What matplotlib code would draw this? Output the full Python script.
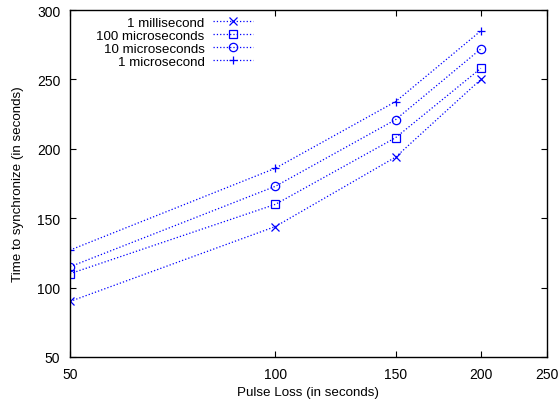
import numpy as np
import matplotlib.pyplot as plt
from matplotlib.ticker import FixedLocator, NullLocator, FixedFormatter

pulse_loss = [50, 100, 150, 200]
t_1ms = [90, 144, 194, 250]
t_100us = [110, 160, 208, 258]
t_10us = [115, 173, 221, 272]
t_1us = [127, 186, 234, 285]

series = [
    ('1 millisecond', t_1ms, 'x'),
    ('100 microseconds', t_100us, 's'),
    ('10 microseconds', t_10us, 'o'),
    ('1 microsecond', t_1us, '+'),
]

plt.rcParams['font.family'] = ['Liberation Sans', 'DejaVu Sans']

fig = plt.figure(figsize=(5.59, 4.02), dpi=100)
ax = fig.add_axes([0.1252, 0.1095, 0.8533, 0.8631])

for label, vals, m in series:
    ax.plot(pulse_loss, vals, color='#0000ff', linestyle=':', linewidth=0.9,
            marker=m, markersize=6, markerfacecolor='none', markeredgewidth=0.9,
            label=label)

ax.set_xscale('log')
ax.set_xlim(50, 250)
ax.set_ylim(50, 300)
xt = [50, 100, 150, 200, 250]
ax.xaxis.set_major_locator(FixedLocator(xt))
ax.xaxis.set_major_formatter(FixedFormatter([str(v) for v in xt]))
ax.xaxis.set_minor_locator(NullLocator())
ax.set_yticks([50, 100, 150, 200, 250, 300])

ax.tick_params(direction='in', top=True, right=True, length=4, width=0.8,
               labelsize=10, pad=7)
for s in ax.spines.values():
    s.set_linewidth(1.0)

ax.set_xlabel('Pulse Loss (in seconds)', fontsize=9.6, labelpad=4)
ax.set_ylabel('Time to synchronize (in seconds)', fontsize=9.6, labelpad=9)

# gnuplot-style key: text right-aligned, sample line after it
ax.legend(loc='upper right', bbox_to_anchor=(0.394, 0.997), frameon=False,
          markerfirst=False, fontsize=9.6, handlelength=3.0, labelspacing=0.05,
          borderaxespad=0.0, handletextpad=0.6)

fig.savefig('out.png', dpi=100)
